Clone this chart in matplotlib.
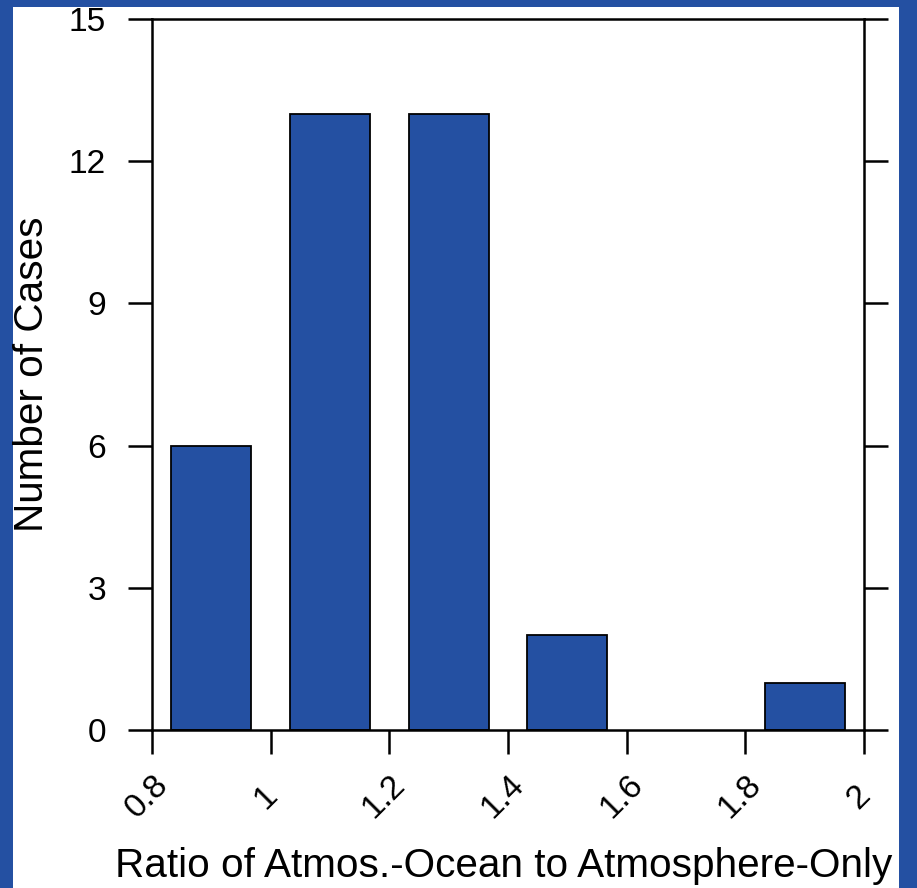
import matplotlib
matplotlib.use("Agg")
import matplotlib.pyplot as plt
from matplotlib.patches import Rectangle
from matplotlib.transforms import ScaledTranslation

plt.rcParams['font.family'] = ['Liberation Sans', 'DejaVu Sans']

# Histogram of ratio bins
bin_centers = [0.9, 1.1, 1.3, 1.5, 1.7, 1.9]
counts = [6, 13, 13, 2, 0, 1]
bar_width = 0.135

x_ticks = [0.8, 1.0, 1.2, 1.4, 1.6, 1.8, 2.0]
x_tick_labels = ["0.8", "1", "1.2", "1.4", "1.6", "1.8", "2"]
y_ticks = [0, 3, 6, 9, 12, 15]

W, H = 917, 888
DPI = 72
blue = "#2450A2"

fig = plt.figure(figsize=(W / DPI, H / DPI), dpi=DPI, facecolor=blue)
# white panel inside the blue frame
fig.patches.append(Rectangle((13 / W, 0), (899 - 13) / W, (881) / H,
                             transform=fig.transFigure, facecolor="white",
                             edgecolor="none", zorder=-10))

ax = fig.add_axes([152 / W, 158 / H, (864 - 152) / W, (730 - 19) / H])
ax.set_facecolor("white")

# empty bins get no outline
edge_widths = [1.8 if c > 0 else 0 for c in counts]
ax.bar(bin_centers, counts, width=bar_width, color=blue,
       edgecolor="black", linewidth=edge_widths, zorder=2)

ax.set_xlim(0.8, 2.0)
ax.set_ylim(0, 15)

for s in ax.spines.values():
    s.set_linewidth(2.5)
    s.set_zorder(3)

ax.set_yticks(y_ticks)
ax.set_yticklabels([str(v) for v in y_ticks])
ax.tick_params(axis='y', which='major', direction='out', length=24, width=2.5,
               labelsize=33.5, pad=22, left=True, right=True,
               labelleft=True, labelright=False)

ax.set_xticks(x_ticks)
ax.set_xticklabels(x_tick_labels, rotation=45, ha='center', va='center',
                   rotation_mode='anchor')
ax.tick_params(axis='x', which='major', direction='out', length=24, width=2.5,
               labelsize=33.5, pad=43, bottom=True, top=False)
for lab in ax.get_xticklabels():
    lab.set_transform(lab.get_transform() +
                      ScaledTranslation(-5 / DPI, 0, fig.dpi_scale_trans))

ax.set_xlabel("Ratio of Atmos.-Ocean to Atmosphere-Only", fontsize=40.5,
              va='baseline', ha='center')
ax.xaxis.set_label_coords((504 - 152) / 712, (888 - 877 - 158) / 711)

ax.set_ylabel("Number of Cases", fontsize=40.5, va='baseline', ha='center')
ax.yaxis.set_label_coords((43 - 152) / 712, 0.5)

fig.savefig("out.png", dpi=DPI, facecolor=blue)
